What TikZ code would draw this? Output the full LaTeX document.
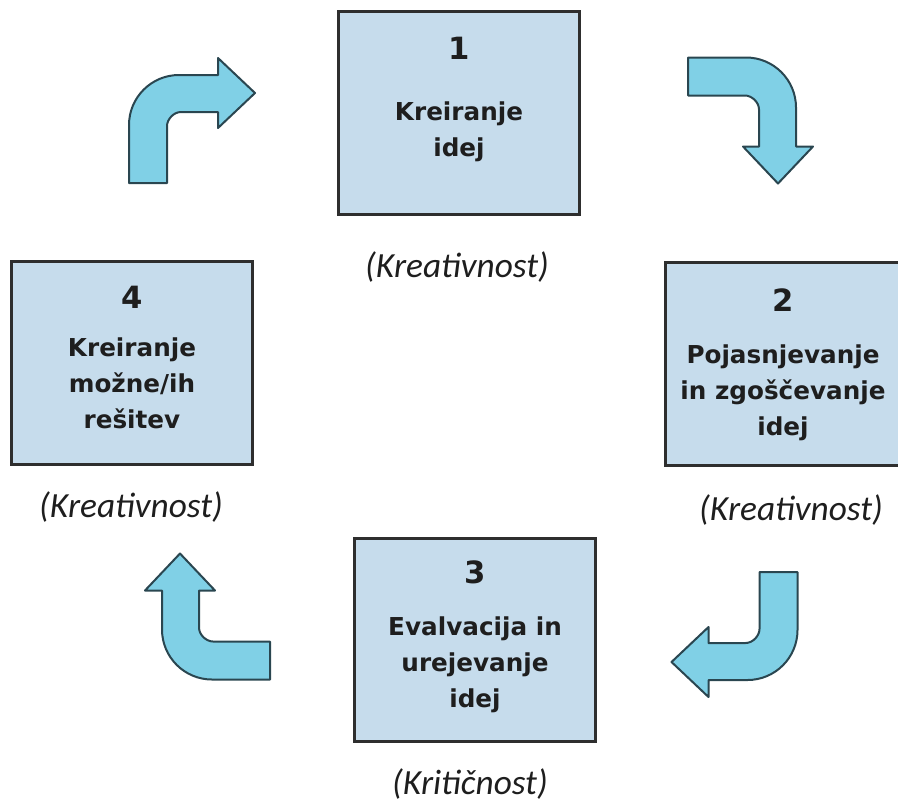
\documentclass[tikz,border=0pt]{standalone}
\usepackage{fontspec}
\newfontfamily\boxfont{DejaVu Sans}
\newfontfamily\notefont{Carlito}
\usetikzlibrary{positioning}
\definecolor{cBox}{HTML}{C6DCEC}
\definecolor{cEdge}{HTML}{2E2E2E}
\definecolor{cArr}{HTML}{80D0E6}
\definecolor{cArrEdge}{HTML}{2A4650}
\definecolor{cText}{HTML}{1E1E1E}
\tikzset{
  stage/.style={draw=cEdge, line width=2.2pt, fill=cBox, minimum width=181pt,
                minimum height=152pt, inner sep=0pt},
  stagenum/.style={font=\boxfont\bfseries\fontsize{23}{26}\selectfont, text=cText, inner sep=0pt},
  stagetxt/.style={font=\boxfont\bfseries\fontsize{18.5}{27}\selectfont, text=cText,
                   align=center, inner sep=0pt},
  phase/.style={font=\notefont\itshape\fontsize{26.5}{30}\selectfont, text=cText, inner sep=0pt},
  bendfill/.style={draw=cArrEdge, line width=1.5pt, fill=cArr, line join=round},
  bentarrow/.pic={
    \draw[bendfill] (-19,0) -- (-19,-58)
      .. controls (-19,-85.6) and (3.4,-108) .. (31,-108) -- (70,-108) -- (70,-125)
      -- (107,-90) -- (70,-55) -- (70,-71) -- (33,-71)
      .. controls (25.3,-71) and (19,-63.3) .. (19,-57) -- (19,0) -- cycle;
  },
}

\begin{document}
\begin{tikzpicture}[x=0.75pt, y=-0.75pt]
  \useasboundingbox (0,0) rectangle (898,808);
  \clip (0,0) rectangle (898,808);

  % stages
  \node[stage] (b1) at (459,113) {};
  \node[stage] (b2) at (786,364) {};
  \node[stage] (b3) at (475,640) {};
  \node[stage] (b4) at (132,363) {};

  \node[stagenum] (n1) at (459,48) {1};
  \node[stagetxt] (t1) at (459,132) {Kreiranje\\idej};
  \node[stagenum] (n2) at (783,300) {2};
  \node[stagetxt] (t2) at (783,393) {Pojasnjevanje\\in zgoščevanje\\idej};
  \node[stagenum] (n3) at (475,572) {3};
  \node[stagetxt] (t3) at (475,665) {Evalvacija in\\urejevanje\\idej};
  \node[stagenum] (n4) at (132,297) {4};
  \node[stagetxt] (t4) at (132,383) {Kreiranje\\možne/ih\\rešitev};

  % notes under the stages
  \node[phase] (p1) at (457,267) {(Kreativnost)};
  \node[phase] (p2) at (791,510) {(Kreativnost)};
  \node[phase] (p3) at (470,784) {(Kritičnost)};
  \node[phase] (p4) at (131,507) {(Kreativnost)};

  % bent arrows between the stages
  \pic at (148,183) {bentarrow};
  \pic[rotate=-90] at (688,76.5) {bentarrow};
  \pic[rotate=180] at (778.5,572) {bentarrow};
  \pic[rotate=90] at (270,660.5) {bentarrow};
\end{tikzpicture}
\end{document}
